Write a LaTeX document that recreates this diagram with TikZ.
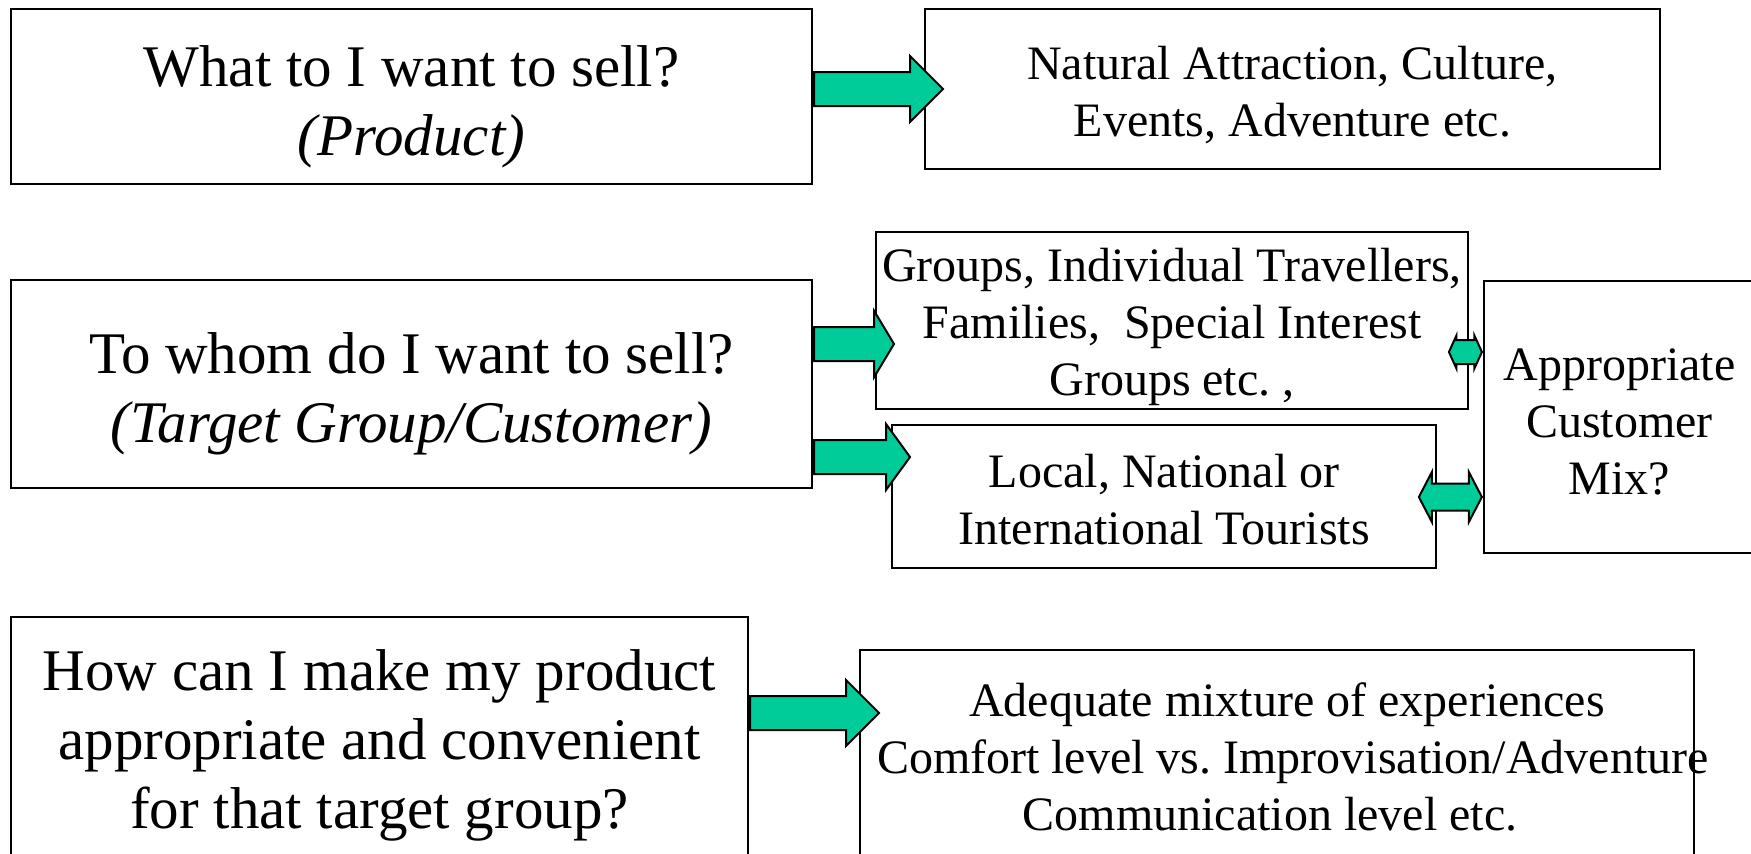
\documentclass[tikz,border=0pt]{standalone}
\usepackage{fontspec}
\setmainfont{Liberation Serif}
\usetikzlibrary{shapes.arrows}

\definecolor{arrowgreen}{RGB}{0,204,153}
\frenchspacing

\begin{document}
\begin{tikzpicture}[
    x=1pt, y=-1pt,
    qbox/.style={
        draw,
        line width=2pt,
        align=center,
        inner sep=0pt,
        text depth=0pt,
        font=\fontsize{59}{69}\selectfont
    },
    abox/.style={
        draw,
        line width=2pt,
        align=center,
        inner sep=0pt,
        text depth=0pt,
        font=\fontsize{48}{57}\selectfont
    },
    fatarrow/.style={
        single arrow,
        draw,
        fill=arrowgreen,
        line width=2pt,
        inner xsep=0pt,
        inner ysep=16pt,
        single arrow head extend=16pt,
        minimum width=64pt,
        anchor=tail
    },
    twoarrow/.style={
        double arrow,
        draw,
        fill=arrowgreen,
        line width=2pt,
        inner xsep=0pt,
        anchor=east
    }
]
    \useasboundingbox (0,0) rectangle (1751,854);
    \fill[white] (0,0) rectangle (1751,854);
    \clip (0,0) rectangle (1751,854);

    % questions
    \node[qbox, minimum width=801pt, minimum height=175pt, text height=117pt] (qprod) at (411.5,96.5) {What to I want to sell?\\\textit{(Product)}};
    \node[qbox, minimum width=801pt, minimum height=208pt, text height=116pt] (qtarget) at (411.5,384) {To whom do I want to sell?\\\textit{(Target Group/Customer)}};
    \node[qbox, anchor=north, minimum width=737pt, inner ysep=33pt, text depth=40pt] (qconv) at (379.5,616) {How can I make my product\\appropriate and convenient\\for that target group?};

    % answers
    \node[abox, minimum width=735pt, minimum height=160pt, text height=94pt] (aprod) at (1292.5,89) {Natural Attraction, Culture,\\Events, Adventure etc.};
    \node[abox, minimum width=592pt, minimum height=177pt, text height=150pt] (agroups) at (1172,320.5) {Groups, Individual Travellers,\\Families,\ \ Special Interest\\Groups etc. ,};
    \node[abox, minimum width=544pt, minimum height=143pt, text height=95pt] (aorigin) at (1164,496.5) {Local, National or\\International Tourists};
    \node[abox, minimum width=271pt, minimum height=272pt, text height=154pt] (amix) at (1619.5,417) {Appropriate\\Customer\\Mix?};
    \node[abox, anchor=north, inner xsep=17pt, inner ysep=33pt, text depth=40pt] (aconv) at (1277,649) {\hspace*{20pt}Adequate mixture of experiences\\\makebox[800pt][l]{Comfort level vs. Improvisation/Adventure}\\Communication level etc.\hspace*{14pt}};

    % block arrows
    \node[fatarrow, minimum height=129pt] (toprod) at (qprod.east |- aprod.west) {};
    \node[fatarrow, minimum height=80pt, single arrow tip angle=118] (togroups) at (qtarget.east |- 0,344) {};
    \node[fatarrow, minimum height=96pt, single arrow tip angle=108] (toorigin) at (qtarget.east |- 0,457) {};
    \node[fatarrow, minimum height=129pt] (toconv) at (qconv.east |- 0,713) {};

    \node[twoarrow, inner ysep=11pt, double arrow head extend=4.5pt, double arrow tip angle=131, minimum height=33pt] (mixup) at (amix.west |- 0,352) {};
    \node[twoarrow, inner ysep=12.5pt, double arrow head extend=11.5pt, double arrow tip angle=125, minimum height=63pt] (mixdown) at (amix.west |- 0,497) {};
\end{tikzpicture}
\end{document}
